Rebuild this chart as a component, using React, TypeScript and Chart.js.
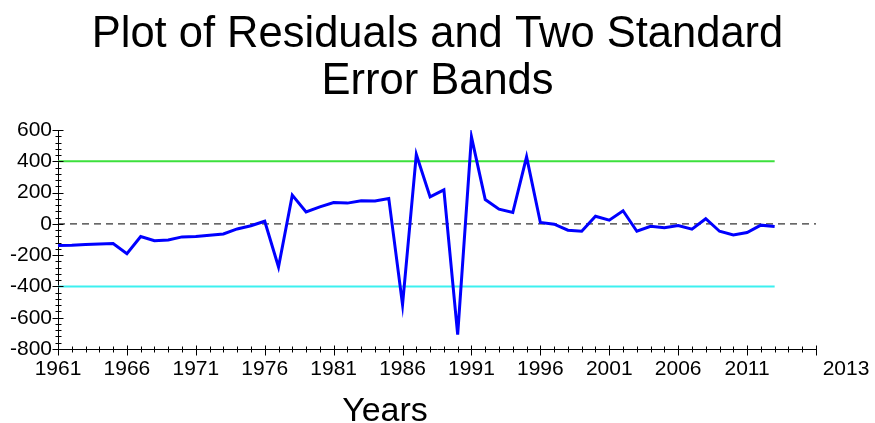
import { useEffect, useRef } from "react";
import { Chart, registerables } from "chart.js";

Chart.register(...registerables);

const years: number[] = [
  1961, 1962, 1963, 1964, 1965, 1966, 1967, 1968, 1969, 1970,
  1971, 1972, 1973, 1974, 1975, 1976, 1977, 1978, 1979, 1980,
  1981, 1982, 1983, 1984, 1985, 1986, 1987, 1988, 1989, 1990,
  1991, 1992, 1993, 1994, 1995, 1996, 1997, 1998, 1999, 2000,
  2001, 2002, 2003, 2004, 2005, 2006, 2007, 2008, 2009, 2010,
  2011, 2012, 2013,
];

const residuals: number[] = [
  -138, -136, -132, -128, -125, -190, -81, -108, -103, -83,
  -81, -72, -64, -32, -12, 17, -275, 184, 77, 109,
  137, 133, 148, 146, 163, -516, 444, 173, 218, -708,
  557, 156, 94, 73, 429, 9, -2, -40, -47, 49,
  24, 84, -47, -15, -25, -10, -34, 33, -47, -70,
  -55, -8, -17,
];

const bandYears: number[] = [1961, 2013];
const upperBand: number[] = [400, 400];
const lowerBand: number[] = [-400, -400];
const zeroYears: number[] = [1961, 2016];
const zeroLine: number[] = [0, 0];

const xMin = 1961;
const xMax = 2016;
const yMin = -800;
const yMax = 600;
const xTickValues: number[] = [1961, 1966, 1971, 1976, 1981, 1986, 1991, 1996, 2001, 2006, 2011, 2016];
const xTickLabels: string[] = ["1961", "1966", "1971", "1976", "1981", "1986", "1991", "1996", "2001", "2006", "2011", ""];
const xEndLabel = "2013";
const yTickValues: number[] = [-800, -600, -400, -200, 0, 200, 400, 600];
const yMinorStep = 40;
const yMajorStep = 200;
const xMinorStep = 1;
const xMajorStep = 5;

const titleLines: string[] = ["Plot of Residuals and Two Standard", "Error Bands"];
const xTitle = "Years";

const SANS = "'Liberation Sans', Arial, Helvetica, sans-serif";
const X_FONT_SIZE = 21;

const axisDecor = {
  id: "axisDecor",
  afterDraw(chart: any) {
    const { ctx } = chart;
    const xs = chart.scales.x;
    const ys = chart.scales.y;
    ctx.save();
    ctx.strokeStyle = "#000";
    ctx.lineWidth = 1;
    ctx.beginPath();
    const ax = Math.round(xs.left) + 0.5;
    for (let v = yMin; v <= yMax; v += yMinorStep) {
      const py = Math.round(ys.getPixelForValue(v)) + 0.5;
      const major = v % yMajorStep === 0;
      ctx.moveTo(ax - (major ? 6 : 3), py);
      ctx.lineTo(ax + (major ? 5 : 3), py);
    }
    const ay = Math.round(ys.bottom) + 0.5;
    for (let v = xMin; v <= xMax; v += xMinorStep) {
      const px = Math.round(xs.getPixelForValue(v)) + 0.5;
      const major = (v - xMin) % xMajorStep === 0;
      ctx.moveTo(px, ay - (major ? 4 : 3));
      ctx.lineTo(px, ay + (major ? 6 : 3));
    }
    ctx.stroke();

    ctx.fillStyle = "#000";
    ctx.font = `${X_FONT_SIZE}px ${SANS}`;
    ctx.textAlign = "center";
    ctx.textBaseline = "alphabetic";
    ctx.fillText(xEndLabel, xs.right + 30, ay + 25);

    ctx.font = `34px ${SANS}`;
    ctx.fillText(xTitle, xs.left + 327, 421);
    ctx.restore();
  },
};

export default function App() {
  const ref = useRef<HTMLCanvasElement | null>(null);

  useEffect(() => {
    document.body.style.margin = "0";
    const canvas = ref.current;
    if (!canvas) return;
    const chart = new Chart(canvas, {
      type: "line",
      data: {
        datasets: [
          {
            label: "Residuals",
            data: years.map((yr, i) => ({ x: yr, y: residuals[i] })),
            borderColor: "#0000FF",
            borderWidth: 3,
            pointRadius: 0,
            tension: 0,
            order: 0,
          },
          {
            label: "Zero",
            data: zeroYears.map((yr, i) => ({ x: yr, y: zeroLine[i] })),
            borderColor: "#000000",
            borderWidth: 1,
            borderDash: [7, 5],
            pointRadius: 0,
            order: 1,
          },
          {
            label: "Upper band",
            data: bandYears.map((yr, i) => ({ x: yr, y: upperBand[i] })),
            borderColor: "#3CE03C",
            borderWidth: 2,
            pointRadius: 0,
            order: 2,
          },
          {
            label: "Lower band",
            data: bandYears.map((yr, i) => ({ x: yr, y: lowerBand[i] })),
            borderColor: "#3CF0F0",
            borderWidth: 2,
            pointRadius: 0,
            order: 3,
          },
        ],
      },
      options: {
        responsive: false,
        animation: false,
        devicePixelRatio: 1,
        layout: { padding: 0 },
        plugins: {
          legend: { display: false },
          tooltip: { enabled: false },
          title: {
            display: true,
            text: titleLines,
            color: "#000",
            font: { family: SANS, size: 43.5, weight: "normal", lineHeight: 1.07 },
            padding: { top: 12, bottom: 25 },
          },
        },
        scales: {
          x: {
            type: "linear",
            min: xMin,
            max: xMax,
            grid: { display: false, drawTicks: false },
            border: { display: true, color: "#000", width: 1 },
            ticks: {
              color: "#000",
              font: { family: SANS, size: X_FONT_SIZE },
              padding: 8,
              autoSkip: false,
              maxRotation: 0,
              callback: (value: any) => {
                const idx = xTickValues.indexOf(Number(value));
                return idx >= 0 ? xTickLabels[idx] : "";
              },
            },
            afterBuildTicks: (s: any) => {
              s.ticks = xTickValues.map((v) => ({ value: v }));
            },
            afterFit: (s: any) => {
              s.height = 74;
            },
          },
          y: {
            type: "linear",
            min: yMin,
            max: yMax,
            grid: { display: false, drawTicks: false },
            border: { display: true, color: "#000", width: 1 },
            ticks: {
              color: "#000",
              font: { family: SANS, size: 21 },
              padding: 6,
              autoSkip: false,
            },
            afterBuildTicks: (s: any) => {
              s.ticks = yTickValues.map((v) => ({ value: v }));
            },
            afterFit: (s: any) => {
              s.width = 58;
            },
          },
          yRight: {
            type: "linear",
            position: "right",
            min: yMin,
            max: yMax,
            grid: { display: false, drawTicks: false },
            border: { display: false },
            ticks: { display: false },
            afterFit: (s: any) => {
              s.width = 59;
            },
          },
        },
      },
      plugins: [axisDecor],
    } as any);
    return () => chart.destroy();
  }, []);

  return (
    <div style={{ width: 875, height: 423 }}>
      <canvas ref={ref} width={875} height={423} style={{ display: "block" }} />
    </div>
  );
}
